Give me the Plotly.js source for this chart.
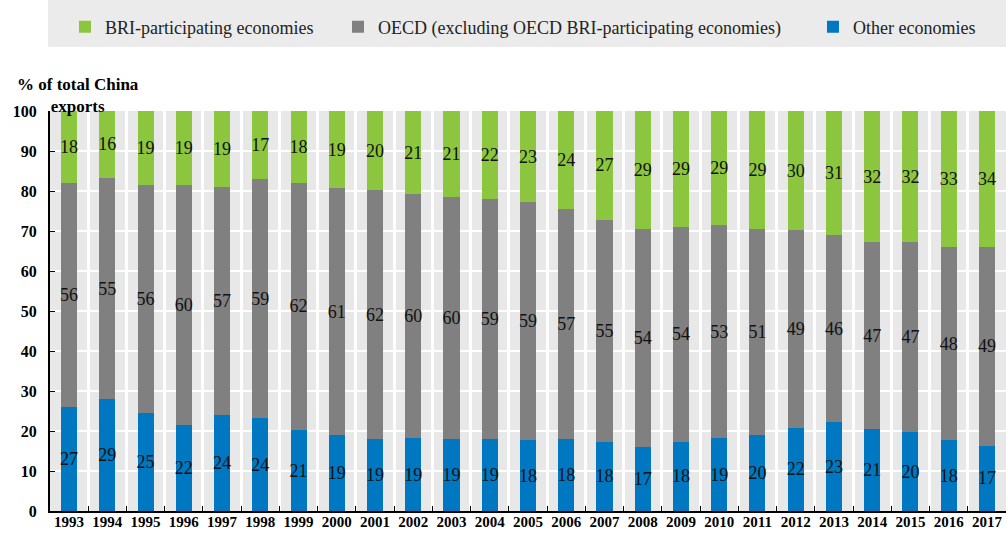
<!DOCTYPE html>
<html>
<head>
<meta charset="utf-8">
<script src="https://cdn.plot.ly/plotly-3.0.1.min.js"></script>
<style>html,body{margin:0;padding:0;background:#fff;}#chart{width:1006px;height:533px;}</style>
</head>
<body>
<div id="chart"></div>
<script>
var years = ["1993","1994","1995","1996","1997","1998","1999","2000","2001","2002","2003","2004","2005","2006","2007","2008","2009","2010","2011","2012","2013","2014","2015","2016","2017"];

// Bar heights (share of total China exports, %)
var otherValues = [26.0, 27.9, 24.6, 21.4, 23.9, 23.25, 20.2, 18.9, 17.9, 18.25, 17.9, 17.9, 17.7, 17.9, 17.3, 16.0, 17.3, 18.25, 18.9, 20.8, 22.2, 20.5, 19.7, 17.7, 16.3];
var oecdValues  = [56.0, 55.4, 56.9, 60.1, 57.2, 59.75, 61.9, 61.85, 62.35, 61.0, 60.6, 60.0, 59.5, 57.6, 55.5, 54.5, 53.7, 53.15, 51.5, 49.4, 46.8, 46.75, 47.55, 48.3, 49.7];
var briValues   = [18.0, 16.7, 18.5, 18.5, 18.9, 17.0, 17.9, 19.25, 19.75, 20.75, 21.5, 22.1, 22.8, 24.5, 27.2, 29.5, 29.0, 28.6, 29.6, 29.8, 31.0, 32.75, 32.75, 34.0, 34.0];

// Data labels as printed on the chart
var otherLabels = ["27","29","25","22","24","24","21","19","19","19","19","19","18","18","18","17","18","19","20","22","23","21","20","18","17"];
var oecdLabels  = ["56","55","56","60","57","59","62","61","62","60","60","59","59","57","55","54","54","53","51","49","46","47","47","48","49"];
var briLabels   = ["18","16","19","19","19","17","18","19","20","21","21","22","23","24","27","29","29","29","29","30","31","32","32","33","34"];

var seriesNames = ["BRI-participating economies", "OECD (excluding OECD BRI-participating economies)", "Other economies"];
var yTicks = [0,10,20,30,40,50,60,70,80,90,100];

var SERIF = "Liberation Serif, Times New Roman, serif";
var labelFont = {family: SERIF, size: 18, color: "#111"};

function barTrace(name, vals, labels, color, legendId) {
  return {
    type: "bar", x: years, y: vals, name: name,
    text: labels, textposition: "inside", insidetextanchor: "middle",
    textangle: 0, insidetextfont: labelFont, cliponaxis: true,
    marker: {color: color, line: {width: 0}},
    legend: legendId, hoverinfo: "x+y+name"
  };
}

var data = [
  barTrace(seriesNames[2], otherValues, otherLabels, "#0077C1", "legend3"),
  barTrace(seriesNames[1], oecdValues, oecdLabels, "#808080", "legend2"),
  barTrace(seriesNames[0], briValues, briLabels, "#8CC63F", "legend")
];

function legendAt(px) {
  return {
    orientation: "h", xref: "container", yref: "container",
    x: px / 1006, y: 1 - 27 / 533, xanchor: "left", yanchor: "middle",
    bgcolor: "rgba(0,0,0,0)", borderwidth: 0,
    font: {family: SERIF, size: 18, color: "#222"}
  };
}

var layout = {
  width: 1006, height: 533,
  margin: {l: 50, r: 0, t: 111, b: 22, pad: 0},
  paper_bgcolor: "#ffffff", plot_bgcolor: "#e8e8e8",
  barmode: "stack", bargap: 0.58,
  uniformtext: {minsize: 18, mode: "show"},
  showlegend: true,
  legend: legendAt(65),
  legend2: legendAt(338),
  legend3: legendAt(813),
  xaxis: {
    type: "category", tickson: "boundaries", ticks: "inside", ticklen: 5, tickcolor: "#000",
    showgrid: true, gridcolor: "#ffffff", gridwidth: 3,
    showline: true, linecolor: "#000", linewidth: 2,
    ticklabelstandoff: -4,
    tickangle: 0, tickfont: {family: SERIF, size: 15, color: "#000", weight: "bold"},
    fixedrange: true
  },
  yaxis: {
    range: [0, 100], tickvals: yTicks, ticktext: yTicks.map(String),
    ticks: "inside", ticklen: 5, tickcolor: "#000",
    showgrid: true, gridcolor: "#ffffff", gridwidth: 2, zeroline: false,
    showline: true, linecolor: "#000", linewidth: 2,
    ticklabelstandoff: 8,
    tickfont: {family: SERIF, size: 16, color: "#000", weight: "bold"},
    fixedrange: true
  },
  shapes: [{
    type: "rect", layer: "below", xref: "paper", yref: "paper",
    x0: -0.002, x1: 1.0, y0: 1 + (111 - 47) / 400, y1: 1 + 111 / 400,
    fillcolor: "#ebebeb", line: {width: 0}
  }],
  annotations: [{
    text: "% of total China<br>exports", xref: "paper", yref: "paper",
    x: (78 - 50) / 956, y: 1 + (111 - 96) / 400, xanchor: "center", yanchor: "middle",
    align: "center", showarrow: false,
    font: {family: SERIF, size: 17, color: "#000", weight: "bold"}
  }]
};

Plotly.newPlot("chart", data, layout, {displayModeBar: false, staticPlot: true});
</script>
</body>
</html>
